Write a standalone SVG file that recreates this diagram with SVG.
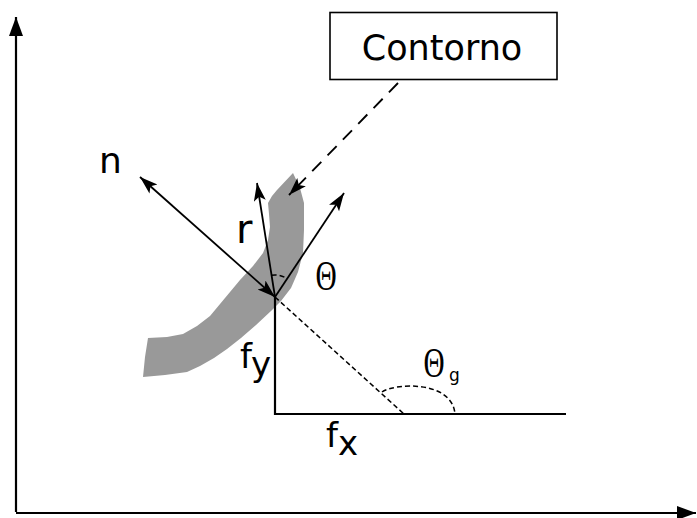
<svg xmlns="http://www.w3.org/2000/svg" width="697" height="518" viewBox="0 0 697 518">
<defs>
<style>
.ln{stroke:#000;stroke-width:2.2;fill:none}
.thin{stroke:#000;stroke-width:1.8;fill:none}
.dash{stroke:#000;stroke-width:1.5;fill:none;stroke-dasharray:5 3}
.bigdash{stroke:#000;stroke-width:1.9;fill:none;stroke-dasharray:13 9}
.sans{font-family:"DejaVu Sans",sans-serif;fill:#000}
.serif{font-family:"Liberation Serif",serif;fill:#000}
</style>
<marker id="axh" markerUnits="userSpaceOnUse" markerWidth="20" markerHeight="16" refX="19" refY="7" orient="auto">
<path d="M0,0 L19,7 L0,14 Z" fill="#000"/>
</marker>
<marker id="ah" markerUnits="userSpaceOnUse" markerWidth="19" markerHeight="13" refX="18" refY="6" orient="auto">
<path d="M0,0 L18,6 L0,12 L4,6 Z" fill="#000"/>
</marker>
<marker id="ahs" markerUnits="userSpaceOnUse" markerWidth="19" markerHeight="13" refX="0" refY="6" orient="auto">
<path d="M18,0 L0,6 L18,12 L14,6 Z" fill="#000"/>
</marker>
</defs>
<rect width="697" height="518" fill="#fff"/>
<g id="band">
<path d="M293,173 L300,188 L304,203 L304,230 L303,253 L298,272 L291,288 L281,301 L271,311 L256,325 L241,338 L227,349 L214,358 L200,366 L187,372 L165,375 L143,377 L145,357 L148,338 L167,337 L183,334 L197,326 L210,316 L225,298 L240,280 L253,266 L263,253 L268,240 L270,227 L269,214 L268,203 L272,196 L277,190 Z" fill="#999"/>
</g>
<g id="contorno">
<rect x="330" y="12.5" width="227" height="67" fill="#fff" stroke="#000" stroke-width="1.6"/>
<text class="sans" x="442" y="60" font-size="35" text-anchor="middle">Contorno</text>
</g>
<g id="connectors">
<line class="ln" x1="16" y1="512" x2="16" y2="17" marker-end="url(#axh)"/>
<line class="ln" x1="16" y1="513" x2="696" y2="513" marker-end="url(#axh)"/>
<line class="bigdash" x1="398" y1="83" x2="289" y2="195" marker-end="url(#ah)"/>
<line class="thin" x1="140" y1="177" x2="275" y2="297" marker-start="url(#ahs)" marker-end="url(#ah)"/>
<line class="thin" x1="275" y1="297" x2="257" y2="183" marker-end="url(#ah)"/>
<line class="thin" x1="275" y1="297" x2="344" y2="193" marker-end="url(#ah)"/>
<line class="ln" x1="275" y1="297" x2="275" y2="415"/>
<line class="ln" x1="274" y1="414" x2="566" y2="414"/>
<line class="dash" x1="275" y1="297" x2="404" y2="414"/>
<path class="dash" d="M271.6,275.3 A22,22 0 0 1 287.2,278.7"/>
<path class="dash" d="M382,392 C395,383 452,380 455,414"/>
</g>
<g id="labels">
<text class="sans" x="99" y="173" font-size="36">n</text>
<text class="sans" x="236" y="243" font-size="40">r</text>
<text class="sans" x="240" y="368" font-size="34">f</text>
<text class="sans" x="251" y="376" font-size="34">y</text>
<text class="sans" x="326" y="447" font-size="34">f</text>
<text class="sans" x="338" y="455" font-size="34">x</text>
<text class="serif" transform="translate(326,290) scale(0.7,1)" font-size="42" text-anchor="middle">Θ</text>
<text class="serif" transform="translate(434,377) scale(0.68,1)" font-size="43" text-anchor="middle">Θ</text>
<text class="sans" x="449" y="381" font-size="17">g</text>
</g>
</svg>
